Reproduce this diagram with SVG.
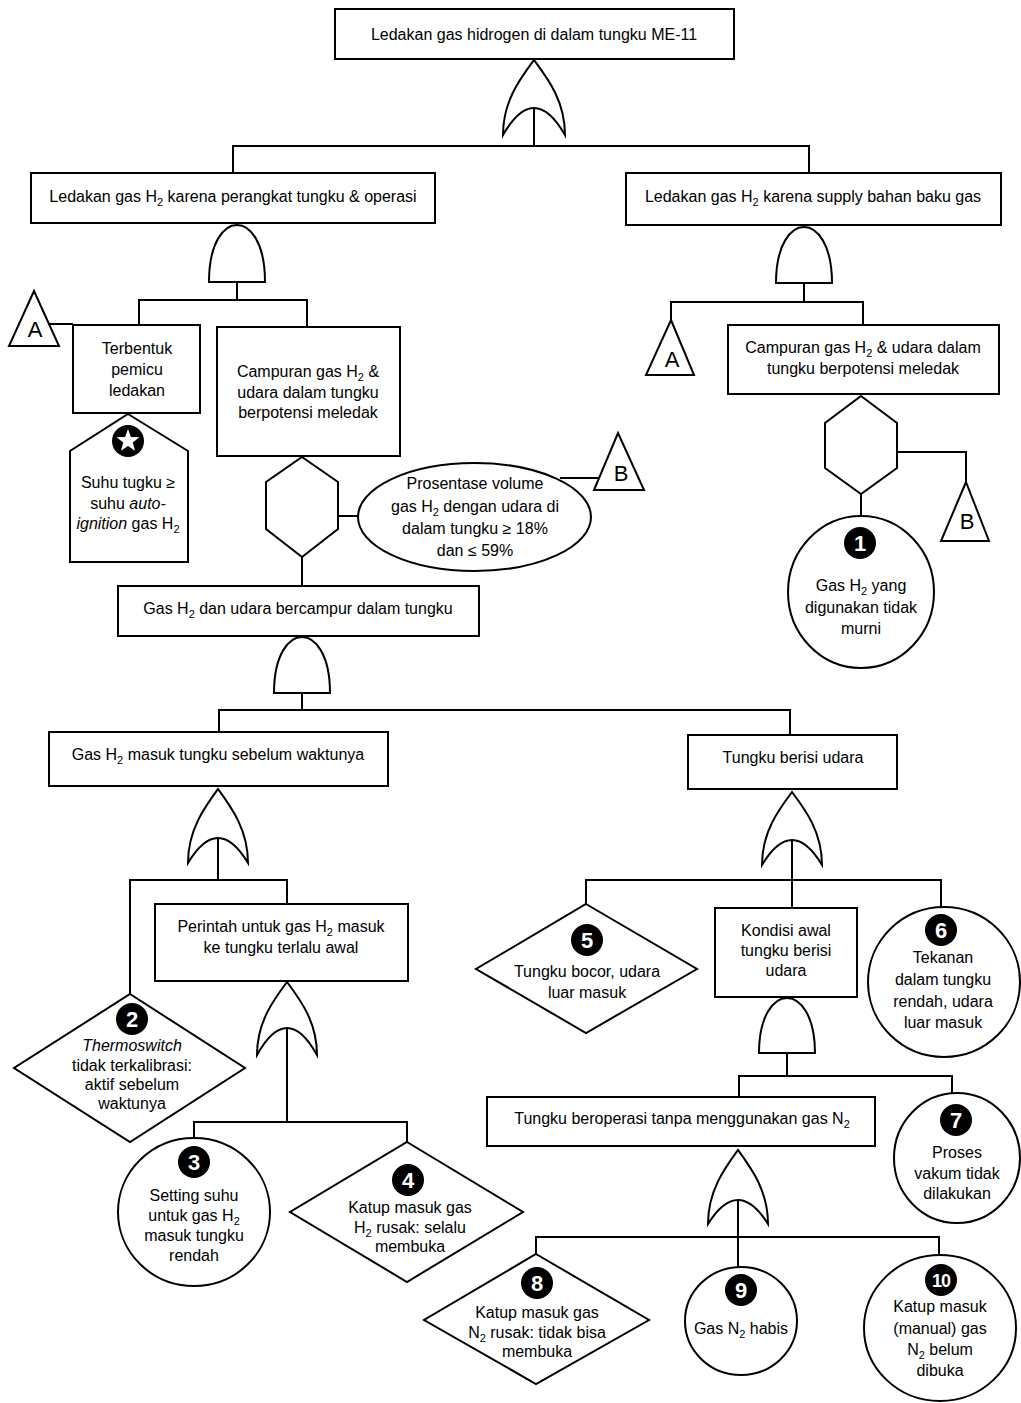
<svg xmlns="http://www.w3.org/2000/svg" width="1021" height="1403" viewBox="0 0 1021 1403">
<style>
.s{fill:#fff;stroke:#000;stroke-width:2}
.ln{fill:none;stroke:#000;stroke-width:2}
text{font-family:"Liberation Sans",Arial,sans-serif;font-size:16px;text-anchor:middle;fill:#000}
.sub{font-size:11px}
.big{font-size:22px}
.bn{fill:#000}
.bt{fill:#fff;font-weight:bold;font-size:22px}
.i{font-style:italic}
</style>
<defs>
<g id="star"><circle class="bn" r="16"/><polygon fill="#fff" points="0,-12 2.94,-4.05 11.41,-3.71 4.76,1.55 7.05,9.71 0,5 -7.05,9.71 -4.76,1.55 -11.41,-3.71 -2.94,-4.05"/></g>
</defs>
<rect width="1021" height="1403" fill="#fff"/>
<g id="connectors" class="ln">
<path d="M534,108V146M233,173V146H809V173"/>
<path d="M237,282V300M139,325V300H307V327M49,324H73"/>
<path d="M338,516H358M302,557V586M560,478H599"/>
<path d="M804,283V302M671,320V302H863V325"/>
<path d="M897,452H966V482M861,494V516"/>
<path d="M302,693V710M219,732V710H790V735"/>
<path d="M218,838V880M130,994V880H287V904"/>
<path d="M287,1028V1122M194,1138V1122H407V1142"/>
<path d="M792,840V908M586,904V880H941V907"/>
<path d="M787,1053V1076M739,1097V1076H952V1093"/>
<path d="M738,1200V1267M536,1254V1237H939V1255"/>
</g>
<g id="top"><rect class="s" x="335" y="9" width="399" height="50"/><text x="534" y="40">Ledakan gas hidrogen di dalam tungku ME-11</text></g>
<g id="gate1"><path class="s" d="M503,135 C503,101 520,79 534,60 C548,79 565,101 565,135 Q534,81 503,135 Z"/></g>
<g id="e-perangkat"><rect class="s" x="31" y="173" width="404" height="50"/><text x="233" y="202">Ledakan gas H<tspan class="sub" dy="4">2</tspan><tspan dy="-4"> karena perangkat tungku &amp; operasi</tspan></text></g>
<g id="e-supply"><rect class="s" x="626" y="173" width="375" height="52"/><text x="813" y="202">Ledakan gas H<tspan class="sub" dy="4">2</tspan><tspan dy="-4"> karena supply bahan baku gas</tspan></text></g>
<g id="gate2"><path class="s" d="M209,282 C209,242 224,225 237,225 C250,225 265,242 265,282 Z"/></g>
<g id="tA1"><polygon class="s" points="34,291 59,346 9,346"/><text class="big" x="35" y="337">A</text></g>
<g id="e-pemicu"><rect class="s" x="73" y="325" width="127" height="88"/><text x="137" y="354">Terbentuk</text><text x="137" y="375">pemicu</text><text x="137" y="396">ledakan</text></g>
<g id="e-campuran1"><rect class="s" x="217" y="327" width="183" height="129"/><text x="308" y="377">Campuran gas H<tspan class="sub" dy="4">2</tspan><tspan dy="-4"> &amp;</tspan></text><text x="308" y="398">udara dalam tungku</text><text x="308" y="418">berpotensi meledak</text></g>
<g id="house"><polygon class="s" points="128,414 188,451 188,562 70,562 70,451"/><use href="#star" x="128" y="441"/><text x="128" y="488">Suhu tugku ≥</text><text x="128" y="509">suhu <tspan class="i">auto-</tspan></text><text x="128" y="529"><tspan class="i">ignition</tspan> gas H<tspan class="sub" dy="4">2</tspan></text></g>
<g id="hex1"><polygon class="s" points="302,457 338,482 338,529 302,557 266,529 266,482"/></g>
<g id="cond1"><ellipse class="s" cx="474.5" cy="517" rx="116.5" ry="54"/><text x="475" y="489">Prosentase  volume</text><text x="475" y="512">gas H<tspan class="sub" dy="4">2</tspan><tspan dy="-4"> dengan udara di</tspan></text><text x="475" y="534">dalam tungku ≥ 18%</text><text x="475" y="556">dan ≤ 59%</text></g>
<g id="tB1"><polygon class="s" points="618,433 644,490 594,490"/><text class="big" x="621" y="481">B</text></g>
<g id="gate6"><path class="s" d="M776,283 C776,244 791,227 804,227 C817,227 832,244 832,283 Z"/></g>
<g id="tA2"><polygon class="s" points="671,320 694,375 646,375"/><text class="big" x="672" y="367">A</text></g>
<g id="e-campuran2"><rect class="s" x="728" y="325" width="271" height="69"/><text x="863" y="353">Campuran gas H<tspan class="sub" dy="4">2</tspan><tspan dy="-4"> &amp; udara dalam</tspan></text><text x="863" y="374">tungku berpotensi meledak</text></g>
<g id="hex2"><polygon class="s" points="861,396 897,423 897,468 861,494 825,468 825,423"/></g>
<g id="tB2"><polygon class="s" points="966,482 989,541 941,541"/><text class="big" x="967" y="529">B</text></g>
<g id="b1"><ellipse class="s" cx="861" cy="592" rx="73" ry="76"/><circle class="bn" cx="860" cy="543" r="16"/><text class="bt" x="860" y="551">1</text><text x="861" y="591">Gas H<tspan class="sub" dy="4">2</tspan><tspan dy="-4"> yang</tspan></text><text x="861" y="613">digunakan tidak</text><text x="861" y="634">murni</text></g>
<g id="e-bercampur"><rect class="s" x="118" y="586" width="361" height="50"/><text x="298" y="614">Gas H<tspan class="sub" dy="4">2</tspan><tspan dy="-4"> dan udara bercampur dalam tungku</tspan></text></g>
<g id="gate3"><path class="s" d="M274,693 C274,654 289,637 302,637 C315,637 330,654 330,693 Z"/></g>
<g id="e-masuk"><rect class="s" x="49" y="732" width="339" height="54"/><text x="218" y="760">Gas H<tspan class="sub" dy="4">2</tspan><tspan dy="-4"> masuk tungku sebelum waktunya</tspan></text></g>
<g id="e-udara"><rect class="s" x="688" y="735" width="209" height="54"/><text x="793" y="763">Tungku berisi udara</text></g>
<g id="gate4"><path class="s" d="M188,863 C188,830 204.5,807.5 218,789 C231.5,807.5 248,830 248,863 Q218,813 188,863 Z"/></g>
<g id="e-perintah"><rect class="s" x="155" y="904" width="253" height="77"/><text x="281" y="932">Perintah untuk gas H<tspan class="sub" dy="4">2</tspan><tspan dy="-4"> masuk</tspan></text><text x="281" y="953">ke tungku terlalu awal</text></g>
<g id="b2"><polygon class="s" points="130,994 245,1068 130,1142 14,1068"/><circle class="bn" cx="132" cy="1019" r="16"/><text class="bt" x="132" y="1027">2</text><text class="i" x="132" y="1051">Thermoswitch</text><text x="132" y="1071">tidak terkalibrasi:</text><text x="132" y="1090">aktif sebelum</text><text x="132" y="1109">waktunya</text></g>
<g id="gate5"><path class="s" d="M257,1055 C257,1022 273.5,1000 287,982 C300.5,1000 317,1022 317,1055 Q287,1001 257,1055 Z"/></g>
<g id="b3"><ellipse class="s" cx="194" cy="1212" rx="76" ry="74"/><circle class="bn" cx="194" cy="1162" r="16"/><text class="bt" x="194" y="1170">3</text><text x="194" y="1201">Setting suhu</text><text x="194" y="1221">untuk gas H<tspan class="sub" dy="4">2</tspan></text><text x="194" y="1241">masuk tungku</text><text x="194" y="1261">rendah</text></g>
<g id="b4"><polygon class="s" points="407,1142 523,1212 407,1282 290,1212"/><circle class="bn" cx="408" cy="1180" r="16"/><text class="bt" x="408" y="1188">4</text><text x="410" y="1213">Katup masuk gas</text><text x="410" y="1233">H<tspan class="sub" dy="4">2</tspan><tspan dy="-4"> rusak: selalu</tspan></text><text x="410" y="1252">membuka</text></g>
<g id="gate7"><path class="s" d="M762,865 C762,832 778.5,810 792,792 C805.5,810 822,832 822,865 Q792,815 762,865 Z"/></g>
<g id="b5"><polygon class="s" points="586,904 697,969 586,1033 476,969"/><circle class="bn" cx="587" cy="940" r="16"/><text class="bt" x="587" y="948">5</text><text x="587" y="977">Tungku bocor, udara</text><text x="587" y="998">luar masuk</text></g>
<g id="e-kondisi"><rect class="s" x="715" y="908" width="142" height="89"/><text x="786" y="936">Kondisi awal</text><text x="786" y="956">tungku berisi</text><text x="786" y="976">udara</text></g>
<g id="b6"><ellipse class="s" cx="944" cy="982" rx="76" ry="75"/><circle class="bn" cx="941" cy="930" r="16"/><text class="bt" x="941" y="938">6</text><text x="943" y="963">Tekanan</text><text x="943" y="985">dalam tungku</text><text x="943" y="1007">rendah, udara</text><text x="943" y="1028">luar masuk</text></g>
<g id="gate8"><path class="s" d="M759,1053 C759,1015 774,998 787,998 C800,998 815,1015 815,1053 Z"/></g>
<g id="e-tanpaN2"><rect class="s" x="487" y="1097" width="388" height="49"/><text x="682" y="1124">Tungku beroperasi tanpa menggunakan gas N<tspan class="sub" dy="4">2</tspan></text></g>
<g id="b7"><ellipse class="s" cx="957" cy="1158" rx="63" ry="65"/><circle class="bn" cx="956" cy="1120" r="16"/><text class="bt" x="956" y="1128">7</text><text x="957" y="1158">Proses</text><text x="957" y="1179">vakum tidak</text><text x="957" y="1199">dilakukan</text></g>
<g id="gate9"><path class="s" d="M708,1224 C708,1191 724.5,1168.5 738,1150 C751.5,1168.5 768,1191 768,1224 Q738,1176 708,1224 Z"/></g>
<g id="b8"><polygon class="s" points="536,1254 649,1320 536,1384 424,1320"/><circle class="bn" cx="537" cy="1283" r="16"/><text class="bt" x="537" y="1291">8</text><text x="537" y="1318">Katup masuk gas</text><text x="537" y="1338">N<tspan class="sub" dy="4">2</tspan><tspan dy="-4"> rusak: tidak bisa</tspan></text><text x="537" y="1357">membuka</text></g>
<g id="b9"><ellipse class="s" cx="741" cy="1321" rx="56" ry="54"/><circle class="bn" cx="741" cy="1290" r="16"/><text class="bt" x="741" y="1298">9</text><text x="741" y="1334">Gas N<tspan class="sub" dy="4">2</tspan><tspan dy="-4"> habis</tspan></text></g>
<g id="b10"><ellipse class="s" cx="940" cy="1328" rx="76" ry="73"/><circle class="bn" cx="941" cy="1280" r="16"/><text class="bt" x="941" y="1287" style="font-size:18px;letter-spacing:-1px">10</text><text x="940" y="1312">Katup masuk</text><text x="940" y="1334">(manual) gas</text><text x="940" y="1355">N<tspan class="sub" dy="4">2</tspan><tspan dy="-4"> belum</tspan></text><text x="940" y="1376">dibuka</text></g>
</svg>
